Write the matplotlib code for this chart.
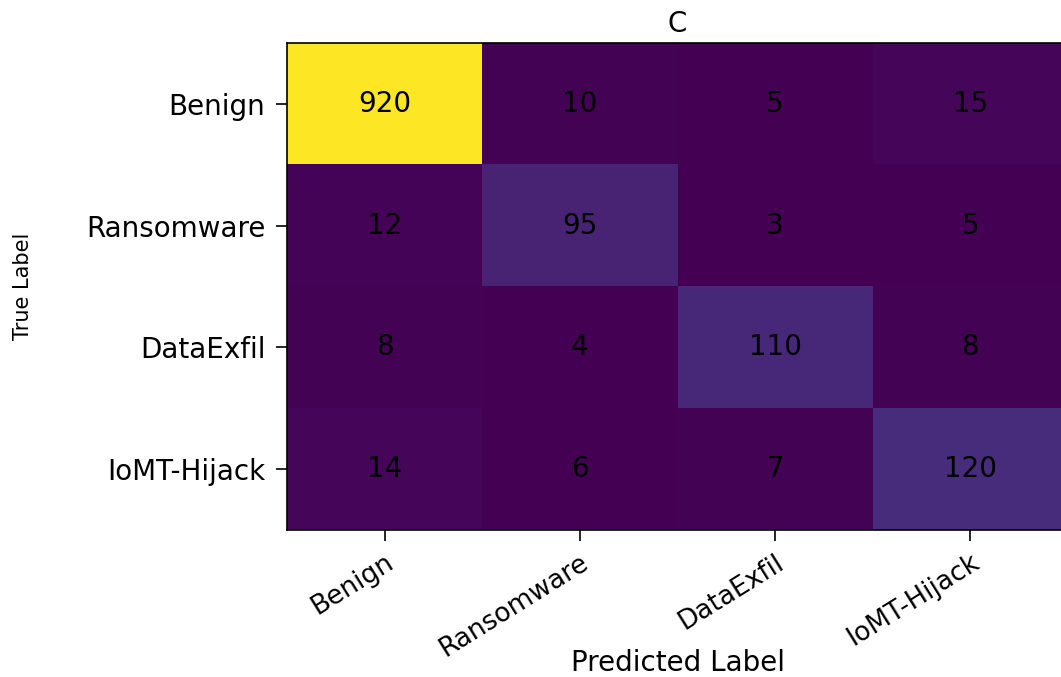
import numpy as np
import matplotlib
matplotlib.use("Agg")
import matplotlib.pyplot as plt

# confusion matrix values
classes = ["Benign", "Ransomware", "DataExfil", "IoMT-Hijack"]
row_benign = [920, 10, 5, 15]
row_ransomware = [12, 95, 3, 5]
row_dataexfil = [8, 4, 110, 8]
row_iomt = [14, 6, 7, 120]

cm = np.array([row_benign, row_ransomware, row_dataexfil, row_iomt])

plt.rcParams['font.family'] = ['DejaVu Sans']

fig = plt.figure(figsize=(10.61, 6.77), dpi=100)
# axes runs past the right edge, as in the reference
ax = fig.add_axes([0.2705, 0.2171, 0.7361, 0.7194])

ax.imshow(cm, cmap="viridis", aspect="auto", interpolation="nearest")

for i in range(cm.shape[0]):
    for j in range(cm.shape[1]):
        ax.text(j, i, str(cm[i, j]), ha="center", va="center",
                color="black", fontsize=20)

ax.set_xticks(range(len(classes)))
ax.set_yticks(range(len(classes)))
ax.set_xticklabels(classes, rotation=32, ha="right", rotation_mode="anchor",
                   fontsize=19)
ax.set_yticklabels(classes, fontsize=20)
ax.tick_params(axis="both", length=8, width=1.2)
ax.tick_params(axis="y", pad=7.5)
ax.tick_params(axis="x", pad=6)

ax.set_title("C", fontsize=20, pad=8)
ax.set_xlabel("Predicted Label", fontsize=20)
ax.xaxis.set_label_coords(0.5, -0.245)
ax.set_ylabel("True Label", fontsize=15)
ax.yaxis.set_label_coords(-0.325, 0.5)

for s in ax.spines.values():
    s.set_linewidth(1.2)

fig.savefig("out.png", dpi=100)
